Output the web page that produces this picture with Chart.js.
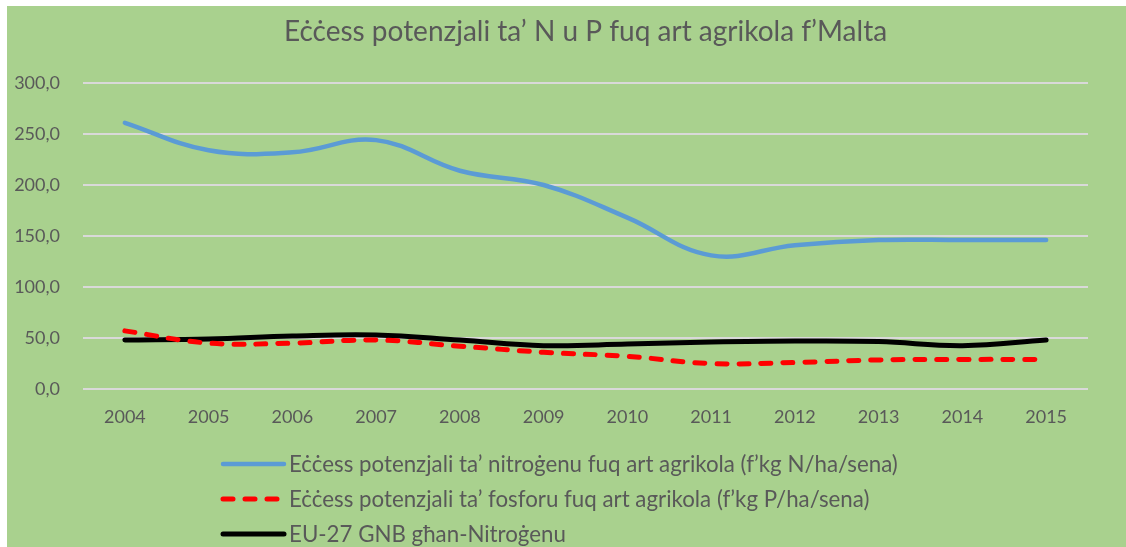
<!DOCTYPE html>
<html>
<head>
<meta charset="utf-8">
<script src="https://cdn.jsdelivr.net/npm/chart.js@4/dist/chart.umd.min.js"></script>
<style>
  html, body { margin: 0; padding: 0; background: #ffffff; }
  #wrap { position: relative; width: 1126px; height: 547px; overflow: hidden; }
  #bg { position: absolute; left: 7px; top: 6px; right: 0; bottom: 0; background: #a9d18e; }
  #chart { position: absolute; left: 0; top: 0; }
  #legend { position: absolute; left: 220px; top: 446px; font-family: Lato, "Open Sans", sans-serif; font-size: 22.3px; color: #595959; }
  .row { height: 35px; display: flex; align-items: center; white-space: nowrap; }
  .row svg { width: 68px; height: 12px; margin-right: 1px; flex: none; }
</style>
</head>
<body>
<div id="wrap">
  <div id="bg"></div>
  <canvas id="chart" width="1126" height="547"></canvas>
  <div id="legend"></div>
</div>
<script>
const chartTitle = 'Eċċess potenzjali ta’ N u P fuq art agrikola f’Malta';
const years = ['2004','2005','2006','2007','2008','2009','2010','2011','2012','2013','2014','2015'];
const nitrogenLabel = 'Eċċess potenzjali ta’ nitroġenu fuq art agrikola (f’kg N/ha/sena)';
const phosphorusLabel = 'Eċċess potenzjali ta’ fosforu fuq art agrikola (f’kg P/ha/sena)';
const euLabel = 'EU-27 GNB għan-Nitroġenu';
const nitrogen = [261, 234, 232, 244, 214, 200, 168, 131, 141, 146, 146, 146];
const phosphorus = [57, 45, 45, 48, 42, 36, 32, 25, 26, 28.5, 29, 29];
const euGnb = [48, 49, 52, 53, 48, 42.5, 44, 46, 47, 46.5, 42.5, 48];
const yMin = 0, yMax = 300, yStep = 50;

const grey = '#595959';
const datasets = [
  { label: nitrogenLabel, data: nitrogen, borderColor: '#5b9bd5', borderWidth: 4.5, dash: [] },
  { label: phosphorusLabel, data: phosphorus, borderColor: '#ff0000', borderWidth: 5, dash: [10, 12] },
  { label: euLabel, data: euGnb, borderColor: '#000000', borderWidth: 5, dash: [] }
].map(d => ({
  label: d.label, data: d.data, borderColor: d.borderColor, backgroundColor: d.borderColor,
  borderWidth: d.borderWidth, borderDash: d.dash, borderCapStyle: 'round', borderJoinStyle: 'round',
  tension: 0.4, pointRadius: 0, fill: false
}));

new Chart(document.getElementById('chart'), {
  type: 'line',
  data: { labels: years, datasets: datasets },
  options: {
    responsive: false,
    animation: false,
    layout: { padding: { left: 0, right: 38, top: 0, bottom: 118 } },
    plugins: {
      legend: { display: false },
      tooltip: { enabled: false },
      title: {
        display: true, text: chartTitle, color: grey, fullSize: false,
        font: { family: 'Lato', size: 28, weight: 'normal' },
        padding: { top: 15, bottom: 34.4 }
      }
    },
    scales: {
      x: {
        offset: true,
        grid: { display: false, drawTicks: false },
        border: { display: false },
        ticks: { color: grey, font: { family: 'Lato', size: 18 }, padding: 17, maxRotation: 0 },
        afterFit: s => { s.height = 40; }
      },
      y: {
        min: yMin, max: yMax,
        grid: { color: '#d9d9d9', lineWidth: 2, drawTicks: false },
        border: { display: false },
        ticks: {
          stepSize: yStep, color: grey, font: { family: 'Lato', size: 18 }, padding: 23,
          callback: v => v.toFixed(1).replace('.', ',')
        },
        afterFit: s => { s.width = 83; }
      }
    }
  }
});

const legend = document.getElementById('legend');
datasets.forEach(d => {
  const row = document.createElement('div');
  row.className = 'row';
  const dash = d.borderDash.length ? ` stroke-dasharray="${d.borderDash.join(' ')}"` : '';
  row.innerHTML = `<svg viewBox="0 0 68 12"><line x1="3" y1="6" x2="64" y2="6" stroke="${d.borderColor}" stroke-width="${d.borderWidth}" stroke-linecap="round"${dash}/></svg>`;
  const span = document.createElement('span');
  span.textContent = d.label;
  row.appendChild(span);
  legend.appendChild(row);
});
</script>
</body>
</html>
